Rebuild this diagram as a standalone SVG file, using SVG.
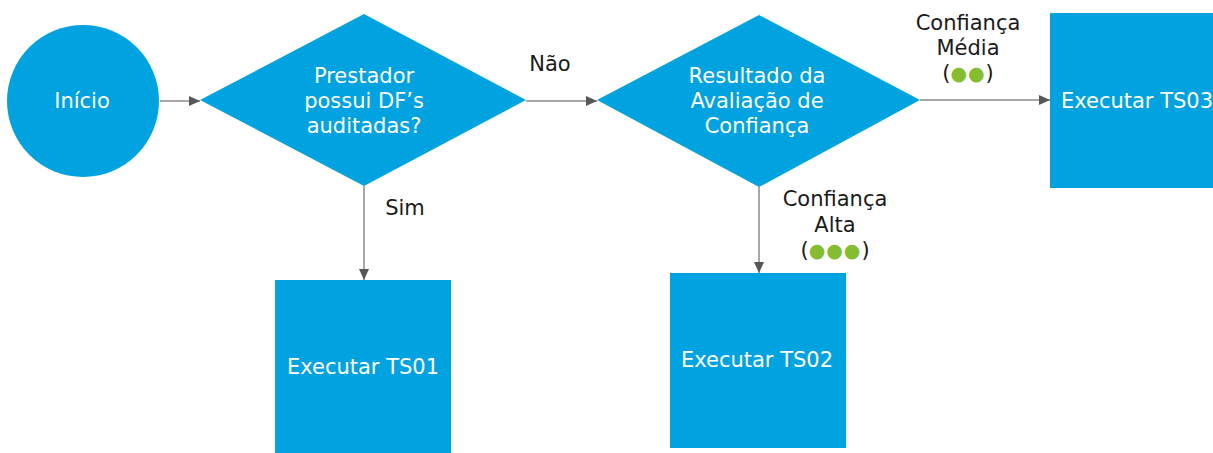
<svg xmlns="http://www.w3.org/2000/svg" width="1213" height="453" viewBox="0 0 1213 453">
<style>
.shape{fill:#00a3e0;}
.nt{font-family:"DejaVu Sans","Liberation Sans",sans-serif;font-size:21px;fill:#ffffff;text-anchor:middle;}
.lt{font-family:"DejaVu Sans","Liberation Sans",sans-serif;font-size:21px;fill:#1a1a1a;text-anchor:middle;}
.dot{fill:#84bd2f;font-size:19px;letter-spacing:1px;}
.conn{stroke:#8a8a8a;stroke-width:1.5;fill:none;marker-end:url(#arr);}
</style>
<defs>
<marker id="arr" markerWidth="12" markerHeight="12" refX="11" refY="6" orient="auto" markerUnits="userSpaceOnUse">
<path d="M0,1 L11,6 L0,11 Z" fill="#55575a"/>
</marker>
</defs>
<rect width="1213" height="453" fill="#ffffff"/>
<g id="connectors">
<line class="conn" x1="160" y1="101" x2="200" y2="101"/>
<line class="conn" x1="526" y1="101" x2="597" y2="101"/>
<line class="conn" x1="920" y1="100" x2="1050" y2="100"/>
<line class="conn" x1="364" y1="186" x2="364" y2="280"/>
<line class="conn" x1="759" y1="187" x2="759" y2="273"/>
<text class="lt" x="550" y="71">Não</text>
<text class="lt" x="405" y="215">Sim</text>
<text class="lt" x="968" y="30">Confiança</text>
<text class="lt" x="968" y="55">Média</text>
<text class="lt" x="968" y="80">(<tspan class="dot">●●</tspan>)</text>
<text class="lt" x="835" y="206">Confiança</text>
<text class="lt" x="835" y="232">Alta</text>
<text class="lt" x="835" y="257">(<tspan class="dot">●●●</tspan>)</text>
</g>
<g id="inicio">
<circle class="shape" cx="83" cy="101" r="76"/>
<text class="nt" x="82" y="108">Início</text>
</g>
<g id="decisao1">
<polygon class="shape" points="200,100 364,14 526,100 364,186"/>
<text class="nt" x="364" y="83">Prestador</text>
<text class="nt" x="364" y="108">possui DF’s</text>
<text class="nt" x="364" y="133">auditadas?</text>
</g>
<g id="decisao2">
<polygon class="shape" points="597,100 759,15 920,100 759,187"/>
<text class="nt" x="757" y="83">Resultado da</text>
<text class="nt" x="757" y="108">Avaliação de</text>
<text class="nt" x="757" y="133">Confiança</text>
</g>
<g id="ts01">
<rect class="shape" x="275" y="280" width="176" height="180"/>
<text class="nt" x="363" y="374">Executar TS01</text>
</g>
<g id="ts02">
<rect class="shape" x="670" y="273" width="176" height="175"/>
<text class="nt" x="757" y="367">Executar TS02</text>
</g>
<g id="ts03">
<rect class="shape" x="1050" y="13" width="176" height="175"/>
<text class="nt" x="1137" y="108">Executar TS03</text>
</g>
</svg>
